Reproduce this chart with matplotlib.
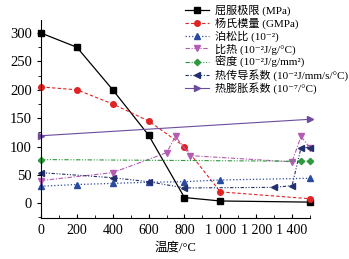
import matplotlib
matplotlib.use('Agg')
import matplotlib.pyplot as plt
from matplotlib.ticker import MultipleLocator, FuncFormatter

plt.rcParams['font.family'] = ['Liberation Serif', 'Noto Sans CJK SC', 'DejaVu Serif']

# temperature (°C) and property values
t_yield = [0, 200, 400, 600, 800, 1000, 1500]
yield_strength = [300, 275, 200, 120, 10, 4, 2]

t_young = [0, 200, 400, 600, 800, 1000, 1500]
young_modulus = [205, 200, 175, 145, 100, 20, 8]

t_poisson = [0, 200, 400, 600, 800, 1000, 1500]
poisson = [30, 33, 35, 37, 38, 41, 44]

t_heat = [0, 400, 700, 750, 830, 1400, 1450, 1500]
specific_heat = [40, 54, 89, 118, 84, 73, 118, 97]

t_density = [0, 1450, 1500]
density = [77, 74, 74]

t_cond = [0, 400, 600, 800, 1300, 1400, 1450, 1500]
conductivity = [54, 45, 38, 27, 28, 31, 98, 98]

t_exp = [0, 1500]
expansion = [119, 148]

labels = ['屈服极限 (MPa)', '杨氏模量 (GMPa)', '泊松比 (10⁻²)',
          '比热 (10⁻²J/g/°C)', '密度 (10⁻²J/g/mm²)',
          '热传导系数 (10⁻²J/mm/s/°C)', '热膨胀系数 (10⁻⁷/°C)']

fig = plt.figure(figsize=(3.49, 2.59), dpi=100)
ax = fig.add_axes([41 / 349, 1 - 218 / 259, 269 / 349, 198 / 259])

ms = 4
lines = []
lines += ax.plot(t_yield, yield_strength, '-', color='black', marker='s', ms=ms, lw=0.9, clip_on=False)
lines += ax.plot(t_young, young_modulus, '--', color='#e02424', marker='o', ms=ms, lw=0.8, dashes=(3, 2), clip_on=False)
lines += ax.plot(t_poisson, poisson, ':', color='#2a4aa0', marker='^', ms=ms, lw=0.9, clip_on=False)
lines += ax.plot(t_heat, specific_heat, '-.', color='#b45cb4', marker='v', ms=ms, lw=0.8, dashes=(4, 1.5, 1, 1.5), clip_on=False)
lines += ax.plot(t_density, density, color='#2e9a3e', marker='D', ms=3.2, lw=0.8, dashes=(4, 1.5, 1, 1.5, 1, 1.5), clip_on=False)
lines += ax.plot(t_cond, conductivity, color='#22306e', marker='<', ms=ms, lw=0.8, dashes=(3, 1.5, 1, 1.5, 1, 1.5), clip_on=False)
lines += ax.plot(t_exp, expansion, '-', color='#6c4c9c', marker='>', ms=ms, lw=0.8, clip_on=False)

ax.set_xlim(0, 1500)
ax.set_ylim(-26, 323)
ax.spines['top'].set_visible(False)
ax.spines['right'].set_visible(False)

ax.xaxis.set_major_locator(MultipleLocator(200))
ax.xaxis.set_minor_locator(MultipleLocator(100))
ax.yaxis.set_major_locator(MultipleLocator(50))
ax.yaxis.set_minor_locator(MultipleLocator(25))


def xfmt(v, pos):
    v = int(round(v))
    if v >= 1000:
        return '%d %03d' % (v // 1000, v % 1000)
    return str(v)


ax.xaxis.set_major_formatter(FuncFormatter(xfmt))
ax.tick_params(axis='x', direction='in', length=3, labelsize=10, pad=4)
ax.tick_params(axis='x', which='minor', direction='in', length=2)
ax.tick_params(axis='y', direction='out', length=3, labelsize=10.5)
ax.tick_params(axis='y', which='minor', direction='out', length=2)
ax.set_xlabel('温度/°C', fontsize=9, labelpad=4)

fig.legend(lines, labels, loc='upper left', bbox_to_anchor=(177 / 349, 1.01),
           frameon=False, fontsize=8, handlelength=2.2, handletextpad=0.5,
           labelspacing=0.12, borderpad=0.2)

fig.savefig('out.png', dpi=100)
